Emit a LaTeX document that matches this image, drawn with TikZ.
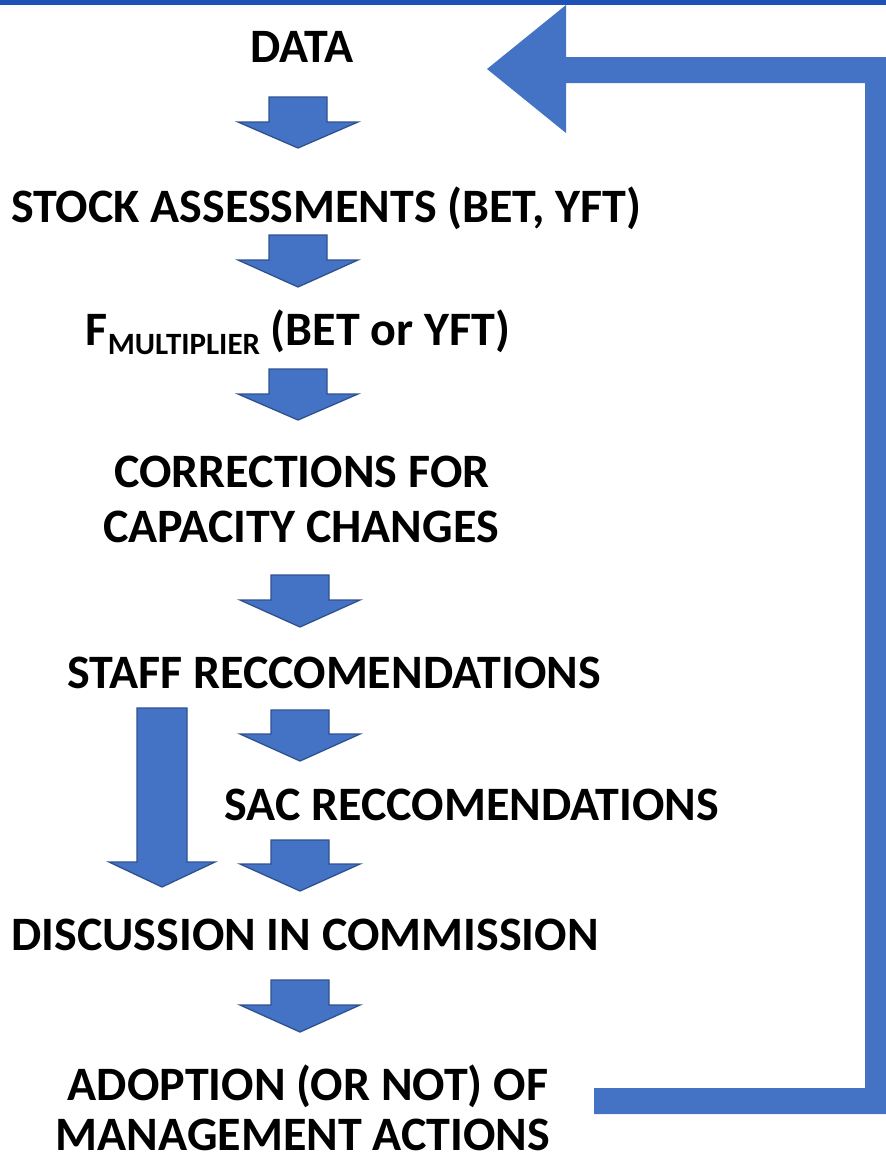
\documentclass[tikz,border=0pt]{standalone}
\usepackage{fontspec}
\setmainfont{Carlito}
\definecolor{arrowfill}{HTML}{4472C4}
\definecolor{arrowline}{HTML}{2F528F}
\definecolor{topband}{HTML}{1F52B6}
\newcommand{\blkarrow}[6]{% cx, ytop, yshoulder, ytip, halfshaft, halfhead
  \filldraw[blockarrow] (#1-#5,#2) -- (#1+#5,#2) -- (#1+#5,#3) -- (#1+#6,#3) -- (#1,#4) -- (#1-#6,#3) -- (#1-#5,#3) -- cycle;}
\begin{document}
\begin{tikzpicture}[x=1pt,y=-1pt,
  lbl/.style={anchor=base,inner sep=0pt,font=\fontsize{48}{55}\selectfont\bfseries,align=center},
  blockarrow/.style={fill=arrowfill,draw=arrowline,line width=1.3pt,line join=miter},
  loop/.style={fill=arrowfill,draw=none}]
\useasboundingbox (0,0) rectangle (886,1157);
\fill[topband] (0,0) rectangle (886,5);
% labels
\node[lbl] (data) at (302,62) {DATA};
\node[lbl] (stock) at (326,222) {STOCK ASSESSMENTS (BET, YFT)};
\node[lbl] (fmult) at (298,345) {F\raisebox{-9pt}{\fontsize{31}{31}\selectfont MULTIPLIER} (BET or YFT)};
\node[lbl] (corr1) at (302,487) {CORRECTIONS FOR};
\node[lbl] (corr2) at (301,542) {CAPACITY CHANGES};
\node[lbl] (staff) at (334,688) {STAFF RECCOMENDATIONS};
\node[lbl] (sac) at (472,820) {SAC RECCOMENDATIONS};
\node[lbl] (disc) at (305,950) {DISCUSSION IN COMMISSION};
\node[lbl] (adopt1) at (308,1100) {ADOPTION (OR NOT) OF};
\node[lbl] (adopt2) at (303,1150) {MANAGEMENT ACTIONS};
% block arrows
\blkarrow{298}{97}{122}{148}{29}{60}
\blkarrow{298}{235}{260}{287}{29}{60}
\blkarrow{298}{369}{394}{420}{29}{60}
\blkarrow{300}{575}{600}{627}{29}{60}
\blkarrow{300}{710}{734}{761}{29}{60}
\blkarrow{300}{840}{864}{891}{29}{60}
\blkarrow{300}{980}{1005}{1032}{29}{60}
\blkarrow{162}{708}{862}{887}{25}{53}
% feedback loop
\coordinate (loopstart) at (594,1114);
\fill[loop] (loopstart) -- (594,1088) -- (865,1088) -- (865,83) -- (566,83) -- (566,133) -- (487,69) -- (566,5) -- (566,57) -- (886,57) -- (886,1114) -- cycle;
\end{tikzpicture}
\end{document}
